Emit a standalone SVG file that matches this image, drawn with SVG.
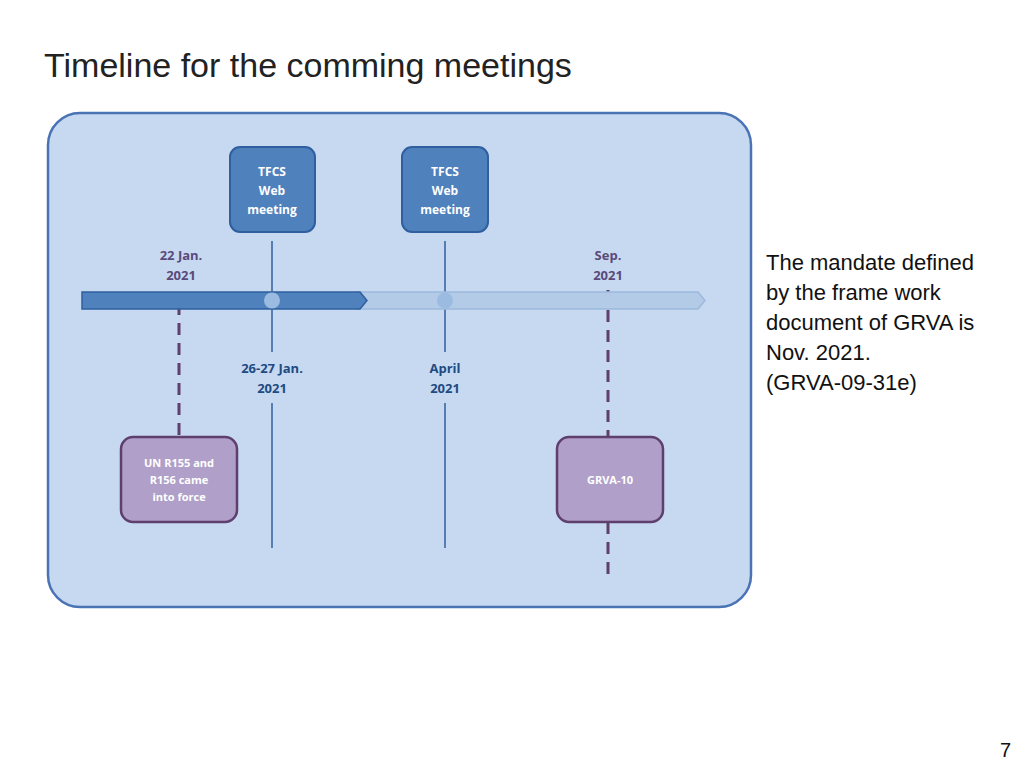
<svg xmlns="http://www.w3.org/2000/svg" width="1024" height="768" viewBox="0 0 1024 768">
<style>
text{font-family:"Liberation Sans","Open Sans",sans-serif}
.sb{font-family:"Open Sans","Liberation Sans",sans-serif;font-weight:bold;font-size:13px;text-anchor:middle}
.w{fill:#fff;font-size:12px}
.wp{fill:#fff;font-size:11px}
.dp{fill:#5a4a7a}
.db{fill:#1f4a82}
.dash{stroke:#5e3f6e;stroke-width:3;stroke-dasharray:12,8;fill:none}
.vl{stroke:#2f5f9f;stroke-width:1.5;fill:none}
</style>
<rect width="1024" height="768" fill="#fff"/>
<text x="44" y="77" font-size="34" fill="#222" font-family="Open Sans, Liberation Sans, sans-serif">Timeline for the comming meetings</text>
<rect x="48" y="113" width="703" height="494" rx="32" fill="#c6d9f0" stroke="#4a73b5" stroke-width="2.5"/>
<g id="connectors">
<line class="dash" x1="179" y1="303" x2="179" y2="437"/>
<line class="dash" x1="608" y1="290" x2="608" y2="437"/>
<line class="dash" x1="608" y1="522" x2="608" y2="582"/>
<line class="vl" x1="272" y1="241" x2="272" y2="352"/>
<line class="vl" x1="272" y1="403" x2="272" y2="548"/>
<line class="vl" x1="445" y1="241" x2="445" y2="352"/>
<line class="vl" x1="445" y1="403" x2="445" y2="548"/>
</g>
<g id="timeline">
<polygon points="357,292 698,292 705,300.5 698,309 357,309" fill="#b3cbe6" stroke="#9cb9dd" stroke-width="1.5"/>
<polygon points="82,292 360,292 367,300.5 360,309 82,309" fill="#4f81bd" stroke="#2f5f9f" stroke-width="1.5"/>
<ellipse cx="272" cy="300.5" rx="8" ry="8" fill="#9bbbe0"/>
<ellipse cx="445" cy="300.5" rx="8" ry="8" fill="#9bbbe0"/>
</g>
<g id="n-tfcs1"><rect x="230" y="147" width="85" height="85" rx="10" fill="#4f81bd" stroke="#2f5f9f" stroke-width="2"/>
<text class="sb w" x="272" y="176">TFCS</text><text class="sb w" x="272" y="195">Web</text><text class="sb w" x="272" y="214">meeting</text></g>
<g id="n-tfcs2"><rect x="402" y="147" width="86" height="85" rx="10" fill="#4f81bd" stroke="#2f5f9f" stroke-width="2"/>
<text class="sb w" x="445" y="176">TFCS</text><text class="sb w" x="445" y="195">Web</text><text class="sb w" x="445" y="214">meeting</text></g>
<g id="l-jan22"><text class="sb dp" x="181" y="260">22 Jan.</text><text class="sb dp" x="181" y="280">2021</text></g>
<g id="l-sep"><text class="sb dp" x="608" y="260">Sep.</text><text class="sb dp" x="608" y="280">2021</text></g>
<g id="l-jan26"><text class="sb db" x="272" y="373">26-27 Jan.</text><text class="sb db" x="272" y="393">2021</text></g>
<g id="l-apr"><text class="sb db" x="445" y="373">April</text><text class="sb db" x="445" y="393">2021</text></g>
<g id="n-un"><rect x="121" y="437" width="116" height="85" rx="12" fill="#b09fc8" stroke="#5e3f6e" stroke-width="2.5"/>
<text class="sb wp" x="179" y="467">UN R155 and</text><text class="sb wp" x="179" y="484">R156 came</text><text class="sb wp" x="179" y="501">into force</text></g>
<g id="n-grva"><rect x="557" y="437" width="106" height="85" rx="12" fill="#b09fc8" stroke="#5e3f6e" stroke-width="2.5"/>
<text class="sb wp" x="610" y="484">GRVA-10</text></g>
<g id="note" font-size="22" fill="#111">
<text x="766" y="270" font-family="Open Sans, Liberation Sans, sans-serif">The mandate defined</text>
<text x="766" y="300" font-family="Open Sans, Liberation Sans, sans-serif">by the frame work</text>
<text x="766" y="330" font-family="Open Sans, Liberation Sans, sans-serif">document of GRVA is</text>
<text x="766" y="360" font-family="Open Sans, Liberation Sans, sans-serif">Nov. 2021.</text>
<text x="766" y="390" font-family="Open Sans, Liberation Sans, sans-serif">(GRVA-09-31e)</text>
</g>
<text x="1000" y="757" font-size="20" fill="#111" font-family="Open Sans, Liberation Sans, sans-serif">7</text>
</svg>
